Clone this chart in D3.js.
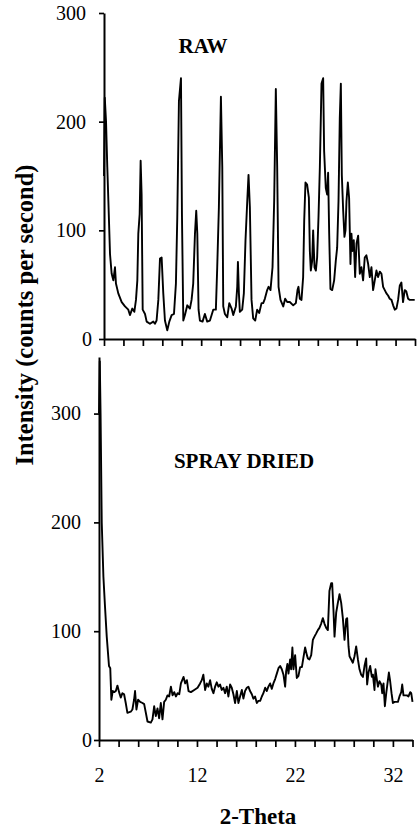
<!DOCTYPE html>
<html>
<head>
<meta charset="utf-8">
<script src="https://cdn.jsdelivr.net/npm/d3@7"></script>
<style>
  html, body { margin: 0; padding: 0; background: #fff; }
  svg { display: block; }
  text { font-family: "Liberation Serif", "Times New Roman", serif; fill: #000; }
</style>
</head>
<body>
<svg id="chart" width="418" height="828"></svg>
<script>
// ---------- DATA ----------
const rawTheta = [2.00,2.08,2.21,2.34,2.45,2.62,2.79,2.96,3.13,3.23,3.47,3.82,4.16,4.50,4.67,4.91,5.12,5.29,5.43,5.53,5.67,5.77,5.87,5.98,6.22,6.39,6.73,7.07,7.24,7.41,7.59,7.76,7.93,8.10,8.27,8.51,8.72,8.96,9.20,9.40,9.54,9.71,9.92,10.02,10.16,10.33,10.57,10.84,11.01,11.18,11.36,11.49,11.60,11.73,11.87,12.14,12.38,12.62,12.90,13.24,13.51,13.65,13.82,14.03,14.17,14.27,14.44,14.68,14.89,15.13,15.30,15.57,15.71,15.78,15.88,15.98,16.22,16.39,16.56,16.74,16.87,17.01,17.18,17.35,17.56,17.76,17.97,18.21,18.38,18.55,18.79,18.93,19.13,19.34,19.51,19.68,19.82,19.96,20.16,20.44,20.64,20.85,21.12,21.47,21.74,21.91,22.01,22.15,22.32,22.49,22.60,22.73,22.90,23.08,23.18,23.28,23.42,23.52,23.66,23.80,23.93,24.07,24.21,24.38,24.55,24.65,24.82,24.96,25.06,25.17,25.30,25.48,25.68,25.85,25.99,26.13,26.26,26.37,26.47,26.61,26.74,26.85,26.95,27.09,27.22,27.36,27.46,27.57,27.70,27.84,27.98,28.15,28.32,28.49,28.66,28.83,29.00,29.18,29.35,29.52,29.69,29.86,30.03,30.20,30.38,30.55,30.72,30.89,31.06,31.23,31.40,31.58,31.75,31.92,32.09,32.26,32.43,32.60,32.77,32.94,33.10,33.29,33.46,33.97];
const rawIntensity = [150,222,200,158,127,78,60,54,66,51,42,34,30,27,22,28,25,36,54,97,115,164,133,27,23,16,14,16,14,17,36,74,75,42,17,8,16,22,23,51,112,219,240,115,17,22,31,28,36,51,97,118,97,27,17,16,23,16,17,27,27,66,121,223,158,30,23,20,33,28,22,30,48,71,42,25,27,42,91,127,151,121,36,19,17,27,24,33,33,37,45,48,45,66,127,230,158,48,36,30,37,34,34,31,33,45,48,37,36,57,109,144,142,130,81,63,72,100,66,63,75,112,158,235,240,173,139,133,153,97,46,45,54,72,84,127,203,235,151,118,94,100,127,144,130,69,97,81,91,57,88,95,60,66,54,75,77,69,57,66,45,54,63,57,62,60,48,45,42,40,37,36,31,27,28,36,49,52,34,45,44,37,36,36];

const sprayTheta = [2.00,2.08,2.16,2.28,2.45,2.61,2.79,3.02,3.15,3.26,3.40,3.55,3.72,3.88,4.05,4.22,4.39,4.56,4.73,4.90,5.24,5.41,5.58,5.68,5.82,5.99,6.20,6.44,6.61,6.78,6.95,7.29,7.46,7.63,7.80,7.97,8.14,8.31,8.48,8.65,8.82,8.99,9.16,9.34,9.51,9.68,9.85,10.02,10.19,10.36,10.63,10.80,10.97,11.14,11.38,11.72,12.06,12.32,12.49,12.65,12.83,13.00,13.16,13.34,13.51,13.68,13.85,14.02,14.19,14.36,14.53,14.70,14.87,15.04,15.21,15.38,15.55,15.72,15.89,16.07,16.23,16.40,16.58,16.74,16.91,17.09,17.25,17.42,17.60,17.76,17.93,18.11,18.27,18.45,18.62,18.78,18.96,19.13,19.29,19.47,19.64,19.80,19.98,20.15,20.32,20.49,20.66,20.83,21.00,21.10,21.23,21.34,21.51,21.61,21.74,21.85,22.02,22.19,22.36,22.53,22.71,22.87,23.04,23.22,23.32,23.48,23.66,23.83,23.99,24.17,24.34,24.50,24.68,24.85,25.01,25.19,25.36,25.52,25.70,25.80,25.93,26.04,26.21,26.38,26.55,26.72,26.89,27.06,27.23,27.33,27.47,27.57,27.74,27.91,28.08,28.25,28.43,28.59,28.76,28.94,29.10,29.27,29.37,29.51,29.68,29.85,29.96,30.12,30.22,30.37,30.47,30.63,30.81,30.91,31.04,31.18,31.32,31.49,31.59,31.72,31.86,32.00,32.17,32.34,32.51,32.67,32.85,32.95,33.08,33.26,33.43,33.59,33.77,33.87,34.00];
const sprayIntensity = [300,348,300,200,150,123,95,68,66,37,45,44,45,50,44,39,43,42,34,25,26,28,37,45,28,37,35,34,33,25,17,16,19,31,22,29,20,34,19,35,37,41,40,49,41,44,40,43,42,52,58,52,55,45,44,46,48,52,55,60,46,52,49,55,47,43,49,53,49,51,46,48,43,49,40,51,48,42,34,45,34,40,46,38,45,48,49,45,42,38,40,34,36,36,40,43,48,45,49,52,47,52,56,61,66,68,65,60,49,63,70,61,74,65,85,65,78,57,59,67,67,76,85,78,75,74,78,92,95,98,101,103,107,112,107,103,101,137,144,144,120,95,117,126,134,126,112,92,111,112,86,77,74,71,77,86,74,65,60,58,68,75,51,62,68,58,60,46,65,55,49,54,51,43,52,31,43,55,62,54,43,34,35,35,35,40,44,51,41,41,41,40,44,43,35];

const xTicks = [2,4,6,8,10,12,14,16,18,20,22,24,26,28,30,32,34];
const xTickLabels = [2,12,22,32];
const yTicksRaw = [0,100,200,300];
const yTicksSpray = [0,100,200,300];
const panelLabels = ["RAW", "SPRAY DRIED"];
const xTitle = "2-Theta";
const yTitle = "Intensity (counts per second)";

// ---------- DRAW ----------
const svg = d3.select("#chart");

const panels = [
  { theta: rawTheta, vals: rawIntensity, yDomain: [0, 300], yTicks: yTicksRaw,
    xRange: [104, 415], yRange: [339, 13], labels: false,
    title: panelLabels[0], titleX: 203, titleY: 53 },
  { theta: sprayTheta, vals: sprayIntensity, yDomain: [0, 352], yTicks: yTicksSpray,
    xRange: [99, 412.5], yRange: [740, 357], labels: true,
    title: panelLabels[1], titleX: 244, titleY: 468 }
];

panels.forEach(p => {
  const x = d3.scaleLinear().domain([2, 34]).range(p.xRange);
  const y = d3.scaleLinear().domain(p.yDomain).range(p.yRange);
  const g = svg.append("g");

  // x axis
  const xAxis = d3.axisBottom(x)
    .tickValues(xTicks)
    .tickSize(7)
    .tickSizeOuter(0)
    .tickPadding(21)
    .tickFormat(d => (p.labels && xTickLabels.includes(d)) ? d : "");
  const xg = g.append("g")
    .attr("transform", `translate(0,${p.yRange[0]})`)
    .call(xAxis);
  xg.select(".domain").attr("stroke", "#000").attr("stroke-width", 2);
  xg.selectAll(".tick line").attr("stroke", "#000").attr("stroke-width", 1.7);
  xg.selectAll(".tick text").attr("font-size", 20)
    .attr("font-family", "Liberation Serif").attr("fill", "#000");

  // y axis
  const yAxis = d3.axisLeft(y)
    .tickValues(p.yTicks)
    .tickSize(5)
    .tickSizeOuter(0)
    .tickPadding(13)
    .tickFormat(d3.format("d"));
  const yg = g.append("g")
    .attr("transform", `translate(${p.xRange[0]},0)`)
    .call(yAxis);
  yg.select(".domain").attr("stroke", "#000").attr("stroke-width", 2);
  yg.selectAll(".tick line").attr("stroke", "#000").attr("stroke-width", 1.7);
  yg.selectAll(".tick text").attr("font-size", 20)
    .attr("font-family", "Liberation Serif").attr("fill", "#000")
    .attr("x", d => d === 0 ? (92 - p.xRange[0]) : -18);

  // data line
  const line = d3.line()
    .x((d, i) => x(p.theta[i]))
    .y(d => y(d));
  g.append("path")
    .datum(p.vals)
    .attr("fill", "none")
    .attr("stroke", "#000")
    .attr("stroke-width", 1.9)
    .attr("stroke-linejoin", "round")
    .attr("d", line);

  // panel title
  g.append("text")
    .attr("x", p.titleX)
    .attr("y", p.titleY)
    .attr("text-anchor", "middle")
    .attr("font-size", 21)
    .attr("font-weight", "bold")
    .text(p.title);
});

// axis titles
svg.append("text")
  .attr("x", 258)
  .attr("y", 824)
  .attr("text-anchor", "middle")
  .attr("font-size", 23)
  .attr("font-weight", "bold")
  .text(xTitle);

svg.append("text")
  .attr("transform", "translate(33,315) rotate(-90)")
  .attr("text-anchor", "middle")
  .attr("font-size", 24.5)
  .attr("font-weight", "bold")
  .text(yTitle);
</script>
</body>
</html>
